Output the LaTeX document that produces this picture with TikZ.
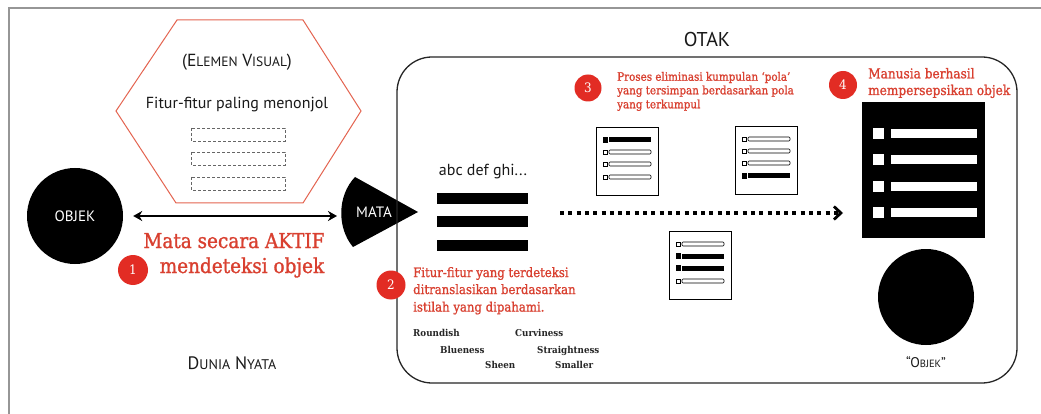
\documentclass[tikz,border=0pt]{standalone}
\usepackage{fontspec}
\setmainfont{PT Sans}
\newfontfamily\rs[FakeStretch=0.9,FakeBold=1.2]{DejaVu Serif}
\newfontfamily\ws[FakeStretch=0.92]{DejaVu Serif}
\usetikzlibrary{arrows.meta}
\definecolor{redc}{RGB}{226,44,36}
\definecolor{redt}{RGB}{217,64,48}
\definecolor{hexred}{RGB}{228,100,80}
\definecolor{framegray}{RGB}{150,150,150}
\newcommand\fs[1]{\fontsize{#1}{#1}\selectfont}
\newcommand\slrow[2]{%
  \ifnum#2=1
    \fill (7,#1-2.7) rectangle (11.5,#1+2.7);
    \fill (13,#1-2.5) rectangle (55,#1+2.5);
  \else
    \draw[line width=0.6pt] (7,#1-2) rectangle (11,#1+2);
    \draw[line width=0.6pt, rounded corners=1pt] (13,#1-2) rectangle (55,#1+2);
  \fi}
\newcommand\slistbox[6]{%
  \begin{scope}[shift={(#1,#2)}]
    \draw[line width=0.9pt, fill=white] (0,0) rectangle (62,68);
    \slrow{13}{#3}\slrow{25}{#4}\slrow{37}{#5}\slrow{50}{#6}
  \end{scope}}
\tikzset{
  numc/.style={circle, fill=redc, text=white, inner sep=0pt, font=\ws\fs{13}},
  redtxt/.style={text=redt, anchor=base west, inner sep=0pt},
  word/.style={anchor=base west, inner sep=0pt, font=\ws\bfseries\fs{9.5}, text=black!85},
  dashbox/.style={draw=black!60, dash pattern=on 3pt off 2pt, line width=0.8pt},
  sans/.style={text=black!90},
}
\begin{document}
\begin{tikzpicture}[x=1pt,y=-1pt]
\useasboundingbox (0,0) rectangle (1041,414);
\fill[white] (0,0) rectangle (1041,414);
% outer frame
\draw[framegray, line width=2.5pt] (9,414) -- (9,8) -- (1041,8);

% hexagon
\draw[hexred, line width=1pt] (177,20) -- (303,20) -- (361,111) -- (303,203) -- (176,203) -- (116,111) -- cycle;
\node[sans, font=\fs{17.5}] (elemen) at (237,62) {(E{\fs{13.5}LEMEN} V{\fs{13.5}ISUAL})};
\node[sans, font=\fs{16}] (fitur) at (237,105) {Fitur-fitur paling menonjol};
\draw[dashbox] (191,128) rectangle (285,141);
\draw[dashbox] (191,152) rectangle (285,165);
\draw[dashbox] (191,177) rectangle (285,190);

% objek
\node[circle, fill=black, minimum size=96pt, inner sep=0pt, text=white, font=\fs{15}] (objek) at (75,216) {OBJEK};

% mata
\fill (355,177) -- (418,212) -- (353,247) .. controls (337,228) and (337,196) .. (355,177);
\node[text=white, font=\fs{15}, inner sep=0pt] (mata) at (374,212) {MATA};
\coordinate (mataL) at (337,216);
\draw[line width=2.8pt, {Stealth[length=9pt,width=10pt]}-{Stealth[length=9pt,width=10pt]}] ([xshift=10pt]objek.east) -- (mataL);

% step 1
\node[redtxt, anchor=base, font=\rs\fs{20.5}] (t1a) at (234,248) {Mata secara AKTIF};
\node[redtxt, anchor=base, font=\rs\fs{20.5}] (t1b) at (242,273) {mendeteksi objek};
\node[numc, minimum size=30pt] (c1) at (133,270) {1};

% dunia nyata
\node[sans, font=\fs{18}] (dunia) at (232,363) {D{\fs{14}UNIA} N{\fs{14}YATA}};

% otak
\draw[line width=1.3pt, draw=black!85, rounded corners=35pt] (397,57) rectangle (1017,383);
\node[sans, font=\fs{20}] (otak) at (707,40) {OTAK};

% abc + bars
\node[sans, font=\fs{16}] (abc) at (483,172) {abc def ghi...};
\fill (437,193) rectangle (528,204);
\fill (437,216) rectangle (528,227);
\fill (437,240) rectangle (528,251);

% step 2
\node[numc, minimum size=29pt] (c2) at (391,285) {2};
\node[redtxt, font=\rs\fs{13}] (t2a) at (413,277) {Fitur-fitur yang terdeteksi};
\node[redtxt, font=\rs\fs{13}] (t2b) at (413,294) {ditranslasikan berdasarkan};
\node[redtxt, font=\rs\fs{13}] (t2c) at (413,311.5) {istilah yang dipahami.};

\node[word] (w1) at (413,336) {Roundish};
\node[word] (w2) at (515,336) {Curviness};
\node[word] (w3) at (440,353) {Blueness};
\node[word] (w4) at (537,353) {Straightness};
\node[word] (w5) at (485,368) {Sheen};
\node[word] (w6) at (555,368) {Smaller};

% dotted arrow
\coordinate (dstart) at (560,213);
\coordinate (dend) at (843,213);
\draw[line width=4pt, dash pattern=on 4pt off 4.3pt, -{Straight Barb[length=7pt,width=13pt,line width=2.8pt]}] (dstart) -- (dend);

% step 3
\node[numc, minimum size=27pt] (c3) at (588,88) {3};
\node[redtxt, font=\rs\fs{11.5}] (t3a) at (617,80.7) {Proses eliminasi kumpulan ‘pola’};
\node[redtxt, font=\rs\fs{11.5}] (t3b) at (617,94.3) {yang tersimpan berdasarkan pola};
\node[redtxt, font=\rs\fs{11.5}] (t3c) at (617,108.3) {yang terkumpul};

\slistbox{596}{127}{1}{0}{0}{0}
\slistbox{735}{126}{0}{0}{0}{1}
\slistbox{669}{231}{0}{1}{1}{0}

% step 4
\node[numc, minimum size=28pt] (c4) at (843,85) {4};
\node[redtxt, font=\rs\fs{13.5}] (t4a) at (868,78.3) {Manusia berhasil};
\node[redtxt, font=\rs\fs{13.5}] (t4b) at (868,95) {mempersepsikan objek};

\node[fill=black, minimum width=123pt, minimum height=136pt, inner sep=0pt] (big) at (923.5,170) {};
\foreach \yy in {134,160,187,213}{
  \fill[white] (873,\yy-5.5) rectangle (884,\yy+5.5);
  \fill[white] (891,\yy-4.5) rectangle (977,\yy+4.5);
}
\node[circle, fill=black, minimum size=96pt, inner sep=0pt] (obj2) at (926,297) {};
\node[sans, font=\fs{14}] (obj2lbl) at (926,362) {“O{\fs{10.5}BJEK}”};
\end{tikzpicture}
\end{document}
